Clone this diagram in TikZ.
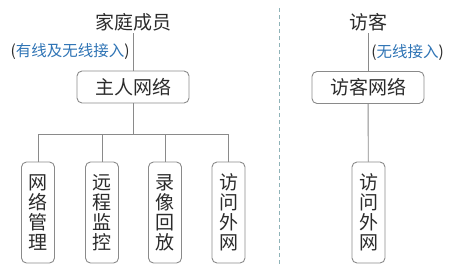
\documentclass[tikz,border=0pt]{standalone}
\usepackage{fontspec}
\setmainfont{Noto Sans CJK SC}
\usetikzlibrary{positioning}
\definecolor{cline}{HTML}{8A8A8A}
\definecolor{ctext}{HTML}{2B2B2B}
\definecolor{cnote}{HTML}{2F74B5}
\definecolor{cdash}{HTML}{8FB3B8}
\tikzset{
  every picture/.style={line width=0.9pt},
  title/.style={font=\fontsize{19}{21}\selectfont, text=ctext, inner sep=2pt},
  netbox/.style={draw=cline, rounded corners=5pt, font=\fontsize{19}{21}\selectfont, text=ctext,
    minimum width=112pt, minimum height=32pt, inner sep=0pt},
  leaf/.style={draw=cline, rounded corners=5pt, font=\fontsize{19}{20}\selectfont, text=ctext,
    minimum width=33pt, minimum height=101pt, inner sep=0pt, align=center},
  link/.style={draw=cline},
  note/.style={font=\fontsize{15.5}{17}\selectfont, text=cnote, inner sep=3pt},
  divider/.style={draw=cdash, dash pattern=on 4pt off 3pt, line width=0.8pt},
}

\begin{document}
\begin{tikzpicture}[x=1pt, y=-1pt]
  \useasboundingbox (0,0) rectangle (460,274);
  % home side
  \node[title] (member) at (133,22) {家庭成员};
  \node[netbox] (host) at (133,87) {主人网络};
  \draw[link] (member) -- node[left, note] {\textcolor{ctext}{(}有线及无线接入\textcolor{ctext}{)}} (host);
  \node[leaf] (manage) at (38,212.5) {网\\络\\管\\理};
  \node[leaf] (remote) at (102,212.5) {远\\程\\监\\控};
  \node[leaf] (replay) at (165,212.5) {录\\像\\回\\放};
  \node[leaf] (wan) at (228.5,212.5) {访\\问\\外\\网};
  \coordinate (bus) at (133,134);
  \draw[link] (host) -- (bus);
  \foreach \n in {manage, remote, replay, wan}
    \draw[link] (bus) -| (\n);
  \draw[link] (manage |- bus) -- (wan |- bus);
  % divider
  \coordinate (top) at (279,8);
  \coordinate (bottom) at (279,266);
  \draw[divider] (top) -- (bottom);
  % guest side
  \node[title] (visitor) at (368,22) {访客};
  \node[netbox] (guest) at (368,87.5) {访客网络};
  \draw[link] (visitor) -- node[right, note] {\textcolor{ctext}{(}无线接入\textcolor{ctext}{)}} (guest);
  \node[leaf] (guestwan) at (368.5,212.5) {访\\问\\外\\网};
  \draw[link] (guest) -- (guestwan);
\end{tikzpicture}
\end{document}
